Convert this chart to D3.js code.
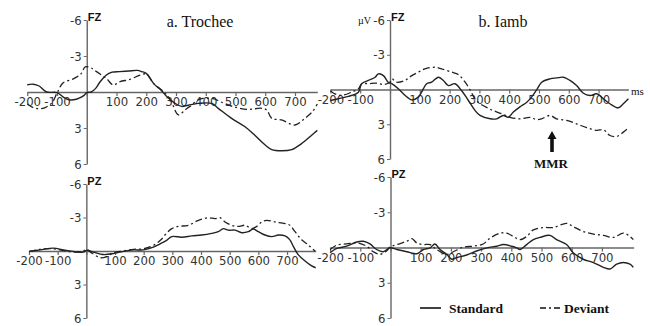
<!DOCTYPE html>
<html>
<head>
<meta charset="utf-8">
<script src="https://cdn.jsdelivr.net/npm/d3@7"></script>
<style>
  body { margin: 0; background: #fff; }
  .tick text, .ylab { font-family: "Liberation Sans Narrow", "Arial Narrow", "DejaVu Sans Condensed", sans-serif; font-size: 13px; fill: #333; }
  .serif { font-family: "Liberation Serif", "Times New Roman", serif; fill: #111; }
  .elec { font-family: "Liberation Sans", Arial, sans-serif; font-weight: bold; font-size: 11px; fill: #111; }
</style>
</head>
<body>
<svg id="chart" width="650" height="326"></svg>
<script>
// tick values shared by all four panels
const xTicks = [-200, -100, 0, 100, 200, 300, 400, 500, 600, 700];
const yTicks = [-6, -3, 3, 6];

// [ms, µV] (negative up)
const fzTrocheeStandard = [[-200,-0.6],[-180,-0.65],[-160,-0.5],[-135,0],[-100,0.05],[-80,0.4],[-60,0.65],[-35,0.6],[-10,0.3],[0,0.05],[15,0],[30,-0.3],[45,-0.85],[65,-1.4],[85,-1.65],[110,-1.7],[140,-1.75],[170,-1.8],[185,-1.7],[200,-1.55],[225,-0.7],[250,-0.15],[270,0.4],[297,0.95],[319,1.2],[341,1.1],[375,0.95],[420,0.95],[442,1.36],[487,2.2],[532,2.9],[565,3.6],[599,4.4],[622,4.8],[655,4.9],[689,4.8],[722,4.3],[756,3.6],[775,3.2]];
const fzTrocheeDeviant = [[-200,1.0],[-180,1.3],[-160,1.4],[-140,1.3],[-117,0.9],[-100,0.1],[-80,-0.75],[-45,-1.1],[-20,-1.5],[-5,-2.1],[15,-2.0],[33,-1.7],[67,-1.1],[89,-0.58],[112,-0.86],[145,-1.05],[179,-1.4],[201,-1.5],[225,-0.7],[255,-0.1],[280,0.6],[308,1.9],[330,1.5],[347,1.2],[380,0.6],[425,0.55],[448,0.8],[490,1.2],[543,1.45],[585,1.35],[605,1.5],[622,2.2],[655,2.33],[700,2.75],[733,2.2],[760,1.6],[775,1.0]];

const fzIambStandard = [[-200,0.95],[-173,0.8],[-140,0.6],[-106,0.23],[-95,-0.5],[-73,-0.78],[-50,-1.06],[-39,-1.35],[-22,-1.2],[-6,-0.63],[6,-0.5],[28,-0.06],[50,0.5],[73,0.9],[95,0.66],[106,0.23],[123,-0.5],[140,-0.63],[162,-1.06],[179,-0.78],[196,-0.34],[218,-0.5],[240,0.09],[263,0.95],[285,1.8],[302,2.24],[336,2.53],[358,2.53],[380,2.24],[397,2.4],[414,1.95],[436,1.5],[459,1.1],[475,0.66],[492,0.03],[509,-0.63],[537,-0.92],[559,-1.0],[582,-1.06],[604,-0.78],[626,-0.34],[649,0.32],[671,0.52],[694,0.37],[716,0.8],[738,1.23],[766,1.58],[783,1.23],[800,0.8]];
const fzIambDeviant = [[-200,0.1],[-185,0.37],[-162,0.5],[-129,0.23],[-106,-0.06],[-95,-0.5],[-73,-0.5],[-45,-0.55],[-22,-0.43],[0,-0.63],[6,-0.92],[22,-0.63],[50,-0.78],[73,-1.2],[95,-1.5],[117,-1.78],[151,-1.92],[173,-1.78],[207,-1.5],[229,-1.3],[252,-0.63],[268,0],[291,1.0],[336,1.7],[380,2.15],[403,2.4],[436,2.53],[470,2.4],[492,2.6],[509,2.53],[537,2.24],[559,2.53],[593,2.67],[626,2.96],[660,3.3],[694,3.53],[716,3.47],[738,3.97],[761,4.05],[783,3.68],[800,3.3]];

const pzTrocheeStandard = [[-200,0.03],[-161,-0.1],[-115,-0.26],[-80,-0.1],[-45,0.03],[-10,0.1],[1,-0.06],[24,0.1],[59,0.32],[94,0.23],[129,0.03],[164,-0.1],[199,-0.1],[234,-0.35],[262,-0.7],[280,-0.95],[298,-1.29],[333,-1.23],[368,-1.35],[402,-1.43],[437,-1.58],[460,-1.73],[478,-2.0],[495,-1.87],[519,-1.87],[542,-1.64],[565,-1.73],[582,-1.96],[600,-1.73],[623,-1.43],[647,-1.29],[670,-1.43],[693,-1.35],[710,-1.0],[722,-0.41],[739,0.32],[763,0.9],[786,1.34],[800,1.5]];
const pzTrocheeDeviant = [[-200,0.05],[-161,-0.15],[-115,-0.2],[-80,-0.05],[-45,0.1],[-10,0.0],[0,-0.15],[20,0.2],[48,0.6],[71,0.5],[94,0.15],[129,0.0],[164,-0.15],[199,-0.2],[234,-0.5],[260,-1.0],[274,-1.43],[298,-2.0],[321,-2.2],[356,-2.3],[391,-2.75],[426,-2.98],[449,-2.9],[466,-2.98],[484,-2.6],[507,-2.3],[530,-2.2],[554,-2.3],[577,-2.0],[594,-2.2],[612,-2.6],[629,-2.75],[658,-2.6],[693,-2.46],[710,-2.3],[728,-1.73],[751,-1.0],[774,-0.55],[798,0.03]];

const pzIambStandard = [[-200,0.44],[-178,0.08],[-145,-0.11],[-112,-0.47],[-90,-0.53],[-68,-0.3],[-46,0.17],[-24,0.36],[-2,0.03],[21,0.17],[54,0.36],[87,0.53],[109,0.17],[131,0.03],[147,-0.3],[164,0.17],[186,0.58],[203,1.0],[219,0.86],[252,0.64],[285,0.3],[319,0.03],[352,-0.11],[374,-0.25],[401,-0.11],[418,0.03],[429,0.17],[451,-0.25],[473,-0.67],[495,-0.86],[528,-1.03],[550,-0.67],[583,-0.25],[605,0.44],[638,1.0],[672,1.28],[705,1.69],[727,1.83],[749,1.42],[771,1.28],[793,1.42],[804,1.69]];
const pzIambDeviant = [[-200,0.17],[-178,-0.2],[-145,-0.3],[-112,-0.39],[-79,-0.11],[-57,0.36],[-35,0.58],[-13,0.3],[-2,-0.03],[21,-0.25],[54,-0.53],[71,-0.75],[87,-0.39],[109,-0.25],[131,-0.25],[153,0.17],[186,0.58],[208,0.36],[241,-0.03],[274,-0.11],[307,-0.3],[330,-0.8],[363,-1.22],[385,-1.22],[407,-0.94],[429,-0.67],[451,-0.94],[473,-1.5],[506,-1.7],[539,-1.7],[583,-2.06],[605,-1.78],[638,-1.36],[672,-1.14],[705,-1.03],[738,-0.86],[771,-1.22],[793,-0.94],[804,-0.67]];

const panels = [
  { site: "FZ", std: fzTrocheeStandard, dev: fzTrocheeDeviant, tEnd: 775, x0: 27.25, x1: 317.3, yTop: 20, yBot: 164 },
  { site: "FZ", std: fzIambStandard, dev: fzIambDeviant, tEnd: 800, x0: 330.4, x1: 628.4, yTop: 20, yBot: 159 },
  { site: "PZ", std: pzTrocheeStandard, dev: pzTrocheeDeviant, tEnd: 800, x0: 29, x1: 315.7, yTop: 184, yBot: 318 },
  { site: "PZ", std: pzIambStandard, dev: pzIambDeviant, tEnd: 805, x0: 330.1, x1: 633.6, yTop: 177, yBot: 318 }
];

const svg = d3.select("#chart");
svg.append("rect").attr("width", 650).attr("height", 326).attr("fill", "#fff");

const dashDot = "7,3,2,3";

panels.forEach(p => {
  const x = d3.scaleLinear().domain([-200, p.tEnd]).range([p.x0, p.x1]);
  const y = d3.scaleLinear().domain([-6, 6]).range([p.yTop, p.yBot]);
  const g = svg.append("g");

  // x axis along 0 µV
  const xa = g.append("g")
    .attr("transform", "translate(0," + y(0) + ")")
    .call(d3.axisBottom(x).tickValues(xTicks).tickSize(4).tickSizeOuter(0)
      .tickFormat(d => d === 0 ? "" : String(d)));
  xa.select(".domain").attr("stroke", "#666").attr("stroke-width", 1.6);
  xa.selectAll(".tick line").attr("stroke", "#666").attr("stroke-width", 1.2);
  xa.selectAll(".tick text").attr("dy", "0.55em").attr("font-size", null).attr("font-family", null);

  // y axis at 0 ms
  const ya = g.append("g")
    .attr("transform", "translate(" + x(0) + ",0)")
    .call(d3.axisLeft(y).tickValues(yTicks).tickSize(3).tickSizeOuter(0)
      .tickFormat(d => String(d)));
  ya.select(".domain").attr("stroke", "#666").attr("stroke-width", 1.4);
  ya.selectAll(".tick line").attr("stroke", "#666");
  ya.selectAll(".tick text").attr("x", -5).attr("font-size", null).attr("font-family", null);

  const line = d3.line()
    .x(d => x(d[0]))
    .y(d => y(d[1]))
    .curve(d3.curveCatmullRom.alpha(0.5));

  g.append("path").datum(p.dev)
    .attr("d", line).attr("fill", "none")
    .attr("stroke", "#222").attr("stroke-width", 1.3)
    .attr("stroke-dasharray", dashDot);

  g.append("path").datum(p.std)
    .attr("d", line).attr("fill", "none")
    .attr("stroke", "#222").attr("stroke-width", 1.4);

  g.append("text").attr("class", "elec")
    .attr("x", x(0) + 1).attr("y", y(-6) + 1)
    .text(p.site);
});

// titles
svg.append("text").attr("class", "serif").attr("x", 200).attr("y", 27)
  .attr("text-anchor", "middle").attr("font-size", 16).text("a. Trochee");
svg.append("text").attr("class", "serif").attr("x", 503).attr("y", 27)
  .attr("text-anchor", "middle").attr("font-size", 16).text("b. Iamb");

// units
svg.append("text").attr("class", "serif").attr("x", 358).attr("y", 24)
  .attr("font-size", 10).text("µV");
svg.append("text").attr("class", "serif").attr("x", 631).attr("y", 95)
  .attr("font-size", 11).text("ms");

// MMR arrow
svg.append("path")
  .attr("d", "M552,131 L556.5,139 L553.8,139 L553.8,152 L550.2,152 L550.2,139 L547.5,139 Z")
  .attr("fill", "#111");
svg.append("text").attr("class", "serif").attr("x", 551).attr("y", 168)
  .attr("text-anchor", "middle").attr("font-size", 13).attr("font-weight", "bold").text("MMR");

// legend
const legend = svg.append("g");
legend.append("line").attr("x1", 420).attr("x2", 441).attr("y1", 308).attr("y2", 308)
  .attr("stroke", "#111").attr("stroke-width", 1.6);
legend.append("text").attr("class", "serif").attr("x", 449).attr("y", 312.5)
  .attr("font-size", 13.5).attr("font-weight", "bold").text("Standard");
legend.append("line").attr("x1", 540).attr("x2", 561).attr("y1", 308).attr("y2", 308)
  .attr("stroke", "#111").attr("stroke-width", 1.4).attr("stroke-dasharray", "6,3,2,3");
legend.append("text").attr("class", "serif").attr("x", 564).attr("y", 312.5)
  .attr("font-size", 13.5).attr("font-weight", "bold").text("Deviant");
</script>
</body>
</html>
